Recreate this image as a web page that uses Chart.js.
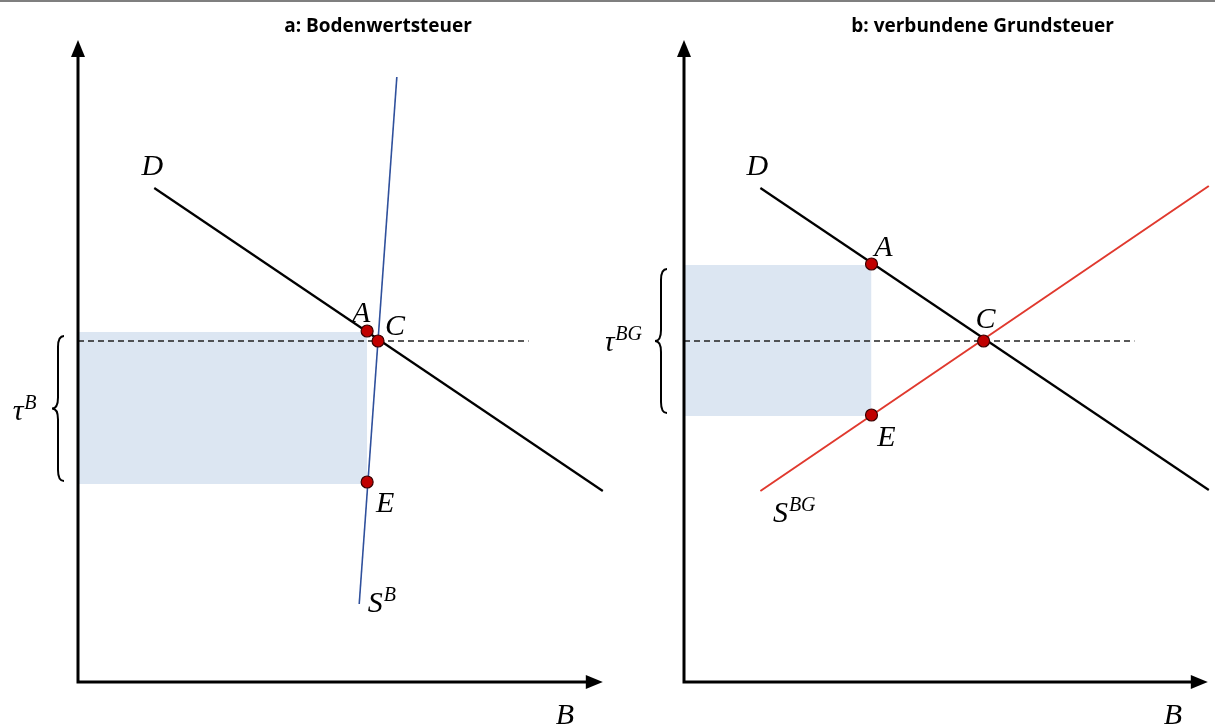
<!DOCTYPE html>
<html>
<head>
<meta charset="utf-8">
<script src="https://cdn.jsdelivr.net/npm/chart.js@4.4.0/dist/chart.umd.min.js"></script>
<style>
  html, body { margin: 0; padding: 0; background: #fff; }
  body { width: 1215px; height: 726px; position: relative; overflow: hidden; }
  .topline { position: absolute; left: 0; top: 0; width: 1215px; height: 2px; background: #7f7f7f; }
  canvas { position: absolute; top: 0; }
  #panelA { left: 0; }
  #panelB { left: 606px; }
</style>
</head>
<body>
<div class="topline"></div>
<canvas id="panelA" width="610" height="726"></canvas>
<canvas id="panelB" width="609" height="726"></canvas>
<script>
// a: Bodenwertsteuer
const demandA = [{ x: 7.7, y: 49.4 }, { x: 53.0, y: 19.1 }];
const supplyA = [{ x: 32.2, y: 60.5 }, { x: 28.4, y: 7.8 }];
const taxLineA = [{ x: 0, y: 34.1 }, { x: 45.5, y: 34.1 }];
const areaTopA = [{ x: 0, y: 35.0 }, { x: 29.2, y: 35.0 }];
const areaBottomA = [{ x: 0, y: 19.8 }, { x: 29.2, y: 19.8 }];
const pointsA = [{ x: 29.2, y: 35.1 }, { x: 30.3, y: 34.1 }, { x: 29.2, y: 20.0 }];

// b: verbundene Grundsteuer
const demandB = [{ x: 7.7, y: 49.4 }, { x: 52.9, y: 19.2 }];
const supplyB = [{ x: 7.7, y: 19.1 }, { x: 52.9, y: 49.6 }];
const taxLineB = [{ x: 0, y: 34.1 }, { x: 45.4, y: 34.1 }];
const areaTopB = [{ x: 0, y: 41.7 }, { x: 18.9, y: 41.7 }];
const areaBottomB = [{ x: 0, y: 26.6 }, { x: 18.9, y: 26.6 }];
const pointsB = [{ x: 18.9, y: 41.8 }, { x: 30.2, y: 34.1 }, { x: 18.9, y: 26.7 }];

const pointNames = ['A', 'C', 'E'];

const mathFont = 'italic 30px "Liberation Serif", "DejaVu Serif", serif';
const supFont = 'italic 20px "Liberation Serif", "DejaVu Serif", serif';

function drawBrace(ctx, xTip, xEnd, y1, y2) {
    const xm = (xTip + xEnd) / 2;
    const mid = (y1 + y2) / 2;
    const r = 11;
    ctx.beginPath();
    ctx.moveTo(xEnd, y1);
    ctx.quadraticCurveTo(xm, y1, xm, y1 + r);
    ctx.lineTo(xm, mid - r);
    ctx.quadraticCurveTo(xm, mid, xTip, mid);
    ctx.quadraticCurveTo(xm, mid, xm, mid + r);
    ctx.lineTo(xm, y2 - r);
    ctx.quadraticCurveTo(xm, y2, xEnd, y2);
    ctx.stroke();
}

function drawLabel(ctx, text, sup, x, y) {
    ctx.font = mathFont;
    ctx.textAlign = 'center';
    ctx.textBaseline = 'alphabetic';
    ctx.fillText(text, x, y);
    if (sup) {
        const w = ctx.measureText(text).width;
        ctx.font = supFont;
        ctx.textAlign = 'left';
        ctx.fillText(sup, x + w / 2 + 1, y - 11);
    }
}

const diagramDecor = {
    id: 'diagramDecor',
    afterDraw(chart, args, opts) {
        const { ctx, chartArea } = chart;
        const xs = chart.scales.x;
        const ys = chart.scales.y;
        const ox = chartArea.left;
        const oy = chartArea.bottom;
        ctx.save();

        // axes with arrow heads
        ctx.strokeStyle = '#000';
        ctx.fillStyle = '#000';
        ctx.lineWidth = 3;
        const topTip = chartArea.top - 2;
        const rightTip = chartArea.right;
        ctx.beginPath();
        ctx.moveTo(ox, oy + 1.5);
        ctx.lineTo(ox, topTip + 14);
        ctx.moveTo(ox - 1.5, oy);
        ctx.lineTo(rightTip - 14, oy);
        ctx.stroke();
        ctx.beginPath();
        ctx.moveTo(ox, topTip);
        ctx.lineTo(ox - 7, topTip + 17);
        ctx.lineTo(ox + 7, topTip + 17);
        ctx.closePath();
        ctx.fill();
        ctx.beginPath();
        ctx.moveTo(rightTip, oy);
        ctx.lineTo(rightTip - 17, oy - 7);
        ctx.lineTo(rightTip - 17, oy + 7);
        ctx.closePath();
        ctx.fill();

        // brace marking the tax
        ctx.lineWidth = 2;
        drawBrace(ctx, ox + opts.braceTip, ox + opts.braceEnd,
            ys.getPixelForValue(opts.braceFrom) + 4, ys.getPixelForValue(opts.braceTo) - 3);

        // title
        ctx.font = 'bold 19px "Open Sans", "Noto Sans", sans-serif';
        ctx.textAlign = 'center';
        ctx.textBaseline = 'middle';
        ctx.fillText(opts.title, xs.getPixelForValue(opts.titleX), 27);

        // curve and point labels
        opts.labels.forEach((l) => {
            drawLabel(ctx, l.text, l.sup, xs.getPixelForValue(l.at.x) + l.dx, ys.getPixelForValue(l.at.y) + l.dy);
        });
        ctx.restore();
    },
};

function buildPanel(id, p) {
    new Chart(document.getElementById(id), {
        type: 'line',
        data: {
            datasets: [
                {
                    data: p.points,
                    showLine: false,
                    pointRadius: 6,
                    pointBackgroundColor: '#C00000',
                    pointBorderColor: '#3a0000',
                    pointBorderWidth: 1.2,
                    order: 0,
                },
                {
                    data: p.demand,
                    borderColor: '#000',
                    borderWidth: 2.2,
                    pointRadius: 0,
                    clip: false,
                    order: 1,
                },
                {
                    data: p.supply,
                    borderColor: p.supplyColor,
                    borderWidth: p.supplyWidth,
                    pointRadius: 0,
                    clip: false,
                    order: 1,
                },
                {
                    data: p.taxLine,
                    borderColor: '#222',
                    borderWidth: 1.5,
                    borderDash: [6, 4],
                    pointRadius: 0,
                    order: 2,
                },
                {
                    data: p.areaTop,
                    borderWidth: 0,
                    pointRadius: 0,
                    fill: '+1',
                    backgroundColor: '#DCE6F2',
                    order: 3,
                },
                {
                    data: p.areaBottom,
                    borderWidth: 0,
                    pointRadius: 0,
                    order: 3,
                },
            ],
        },
        options: {
            responsive: false,
            animation: false,
            events: [],
            layout: {
                padding: { left: 78, right: p.padRight, top: 42, bottom: 44 },
            },
            scales: {
                x: { type: 'linear', min: 0, max: p.xMax, display: false },
                y: { type: 'linear', min: 0, max: 64, display: false },
            },
            plugins: {
                legend: { display: false },
                tooltip: { enabled: false },
                diagramDecor: p.decor,
            },
        },
        plugins: [diagramDecor],
    });
}

buildPanel('panelA', {
    points: pointsA,
    demand: demandA,
    supply: supplyA,
    supplyColor: '#2F509C',
    supplyWidth: 1.6,
    taxLine: taxLineA,
    areaTop: areaTopA,
    areaBottom: areaBottomA,
    padRight: 2,
    xMax: 53,
    decor: {
        title: 'a: Bodenwertsteuer',
        titleX: 30.3,
        braceTip: -26,
        braceEnd: -14,
        braceFrom: areaTopA[0].y,
        braceTo: areaBottomA[0].y,
        labels: [
            { text: 'D', at: demandA[0], dx: -2, dy: -13 },
            { text: pointNames[0], at: pointsA[0], dx: -6, dy: -9 },
            { text: pointNames[1], at: pointsA[1], dx: 17, dy: -6 },
            { text: pointNames[2], at: pointsA[2], dx: 18, dy: 30 },
            { text: 'S', sup: 'B', at: supplyA[1], dx: 16, dy: 8 },
            { text: 'B', at: { x: 53, y: 0 }, dx: -38, dy: 42 },
            { text: 'τ', sup: 'B', at: { x: 0, y: 27.4 }, dx: -60, dy: 12 },
        ],
    },
});

buildPanel('panelB', {
    points: pointsB,
    demand: demandB,
    supply: supplyB,
    supplyColor: '#E0392E',
    supplyWidth: 2,
    taxLine: taxLineB,
    areaTop: areaTopB,
    areaBottom: areaBottomB,
    padRight: 3,
    xMax: 52.8,
    decor: {
        title: 'b: verbundene Grundsteuer',
        titleX: 30.1,
        braceTip: -29,
        braceEnd: -17,
        braceFrom: areaTopB[0].y,
        braceTo: areaBottomB[0].y,
        labels: [
            { text: 'D', at: demandB[0], dx: -3, dy: -13 },
            { text: pointNames[0], at: pointsB[0], dx: 12, dy: -8 },
            { text: pointNames[1], at: pointsB[1], dx: 2, dy: -13 },
            { text: pointNames[2], at: pointsB[2], dx: 15, dy: 31 },
            { text: 'S', sup: 'BG', at: supplyB[0], dx: 20, dy: 31 },
            { text: 'B', at: { x: 52.8, y: 0 }, dx: -35, dy: 42 },
            { text: 'τ', sup: 'BG', at: { x: 0, y: 34.15 }, dx: -75, dy: 10 },
        ],
    },
});
</script>
</body>
</html>
